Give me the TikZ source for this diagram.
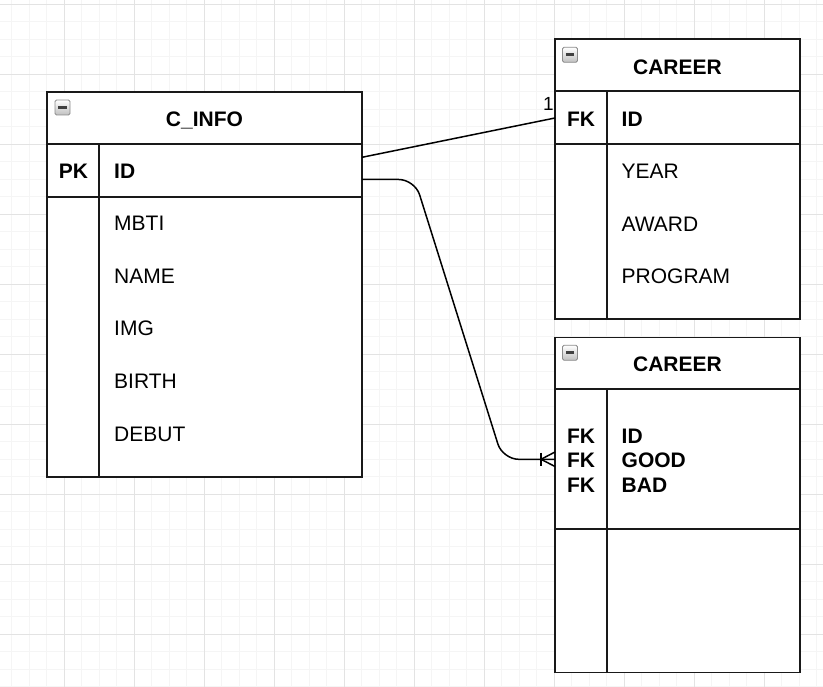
\documentclass[tikz,border=0pt]{standalone}
\usepackage{fontspec}
\setmainfont{Liberation Sans}
\begin{document}
\begin{tikzpicture}[x=1pt,y=-1pt]
\tikzset{
  grmin/.style={draw=black!4, line width=0.8pt},
  grmaj/.style={draw=black!11, line width=1pt},
  tbl/.style={draw=black!90, line width=1.6pt, fill=white, inner sep=0pt, outer sep=0pt, anchor=north west},
  sepline/.style={draw=black!90, line width=1.6pt},
  ttl/.style={font=\fontsize{21}{25}\selectfont\bfseries, anchor=base, inner sep=0pt},
  fld/.style={font=\fontsize{21}{25}\selectfont, anchor=base west, inner sep=0pt},
  keyw/.style={font=\fontsize{21}{25}\selectfont\bfseries, anchor=base west, inner sep=0pt},
  keyc/.style={font=\fontsize{21}{25}\selectfont\bfseries, anchor=base, inner sep=0pt},
  conn/.style={draw=black, line width=1.5pt},
  lbl/.style={font=\fontsize{19}{22}\selectfont, anchor=base, inner sep=0pt},
  mini/.style={draw=black!45, line width=0.8pt, top color=white, bottom color=black!25, rounded corners=1.5pt, minimum width=15pt, minimum height=15pt, inner sep=0pt, outer sep=0pt, anchor=north west},
  minibar/.style={draw=black!75, line width=2.6pt}
}
\useasboundingbox (0,0) rectangle (823,687);
\fill[white] (0,0) rectangle (823,687);
% grid
\foreach \k in {1,...,47} { \draw[grmin] ({-5.7+17.5*\k},0) -- ({-5.7+17.5*\k},687); }
\foreach \k in {0,...,39} { \draw[grmin] (0,{4.3+17.5*\k}) -- (823,{4.3+17.5*\k}); }
\foreach \k in {1,...,11} { \draw[grmaj] ({-5.7+70*\k},0) -- ({-5.7+70*\k},687); }
\foreach \k in {0,...,9} { \draw[grmaj] (0,{4.3+70*\k}) -- (823,{4.3+70*\k}); }

% ---------- C_INFO ----------
\node[tbl, minimum width=315pt, minimum height=385pt] (cinfo) at (47,92) {};
\draw[sepline] (47,144) -- (362,144);
\draw[sepline] (47,197) -- (362,197);
\draw[sepline] (99,144) -- (99,477);
\node[mini] (cinfoicon) at (55,100) {};
\draw[minibar] (58.3,107.5) -- (66.7,107.5);
\node[ttl] (cinfottl) at (204.5,126.7) {C\_INFO};
\node[keyc] (cinfopk) at (73.5,178.3) {PK};
\node[keyw] (cinfoid) at (114,178.3) {ID};
\node[fld] (cinfombti) at (114,231) {MBTI};
\node[fld] (cinfoname) at (114,283.5) {NAME};
\node[fld] (cinfoimg) at (114,336) {IMG};
\node[fld] (cinfobirth) at (114,388.5) {BIRTH};
\node[fld] (cinfodebut) at (114,441) {DEBUT};

% ---------- CAREER (top) ----------
\node[tbl, minimum width=245pt, minimum height=280pt] (careera) at (555,39) {};
\draw[sepline] (555,91) -- (800,91);
\draw[sepline] (555,144) -- (800,144);
\draw[sepline] (607,91) -- (607,319);
\node[mini] (careeraicon) at (562.5,47.3) {};
\draw[minibar] (565.8,54.8) -- (574.2,54.8);
\node[ttl] (careerattl) at (677.5,74.3) {CAREER};
\node[keyc] (careerafk) at (581,126.7) {FK};
\node[keyw] (careeraid) at (621.5,126.7) {ID};
\node[fld] (careerayear) at (621.5,178.8) {YEAR};
\node[fld] (careeraaward) at (621.5,231.3) {AWARD};
\node[fld] (careeraprog) at (621.5,283.8) {PROGRAM};

% ---------- CAREER (bottom) ----------
\node[tbl, minimum width=245pt, minimum height=335pt] (careerb) at (555,337.5) {};
\draw[sepline] (555,389) -- (800,389);
\draw[sepline] (555,529) -- (800,529);
\draw[sepline] (607,389) -- (607,672.5);
\node[mini] (careerbicon) at (562.5,345.3) {};
\draw[minibar] (565.8,352.8) -- (574.2,352.8);
\node[ttl] (careerbttl) at (677.5,371.7) {CAREER};
\node[keyc] (careerbfk1) at (581,443.3) {FK};
\node[keyc] (careerbfk2) at (581,467.8) {FK};
\node[keyc] (careerbfk3) at (581,492.3) {FK};
\node[keyw] (careerbid) at (621.5,443.3) {ID};
\node[keyw] (careerbgood) at (621.5,467.8) {GOOD};
\node[keyw] (careerbbad) at (621.5,492.3) {BAD};

% ---------- connectors ----------
\coordinate (e1s) at (362,157.3);
\coordinate (e1t) at (555,118);
\draw[conn] (e1s) -- (e1t);
\node[lbl] (e1lbl) at (548.3,111) {1};

\coordinate (e2s) at (362,179.5);
\coordinate (e2a) at (414.8,179.5);
\coordinate (e2b) at (502.7,459.3);
\coordinate (e2t) at (555,459.3);
\coordinate (e2bar) at (541,459.3);
\draw[conn, rounded corners=16pt] (e2s) -- (e2a) -- (e2b) -- (e2t);
\draw[conn] (e2bar |- 0,452.5) -- (e2bar |- 0,466);
\draw[conn] (e2t |- 0,452) -- (e2bar) -- (e2t |- 0,466.5);
\end{tikzpicture}
\end{document}
